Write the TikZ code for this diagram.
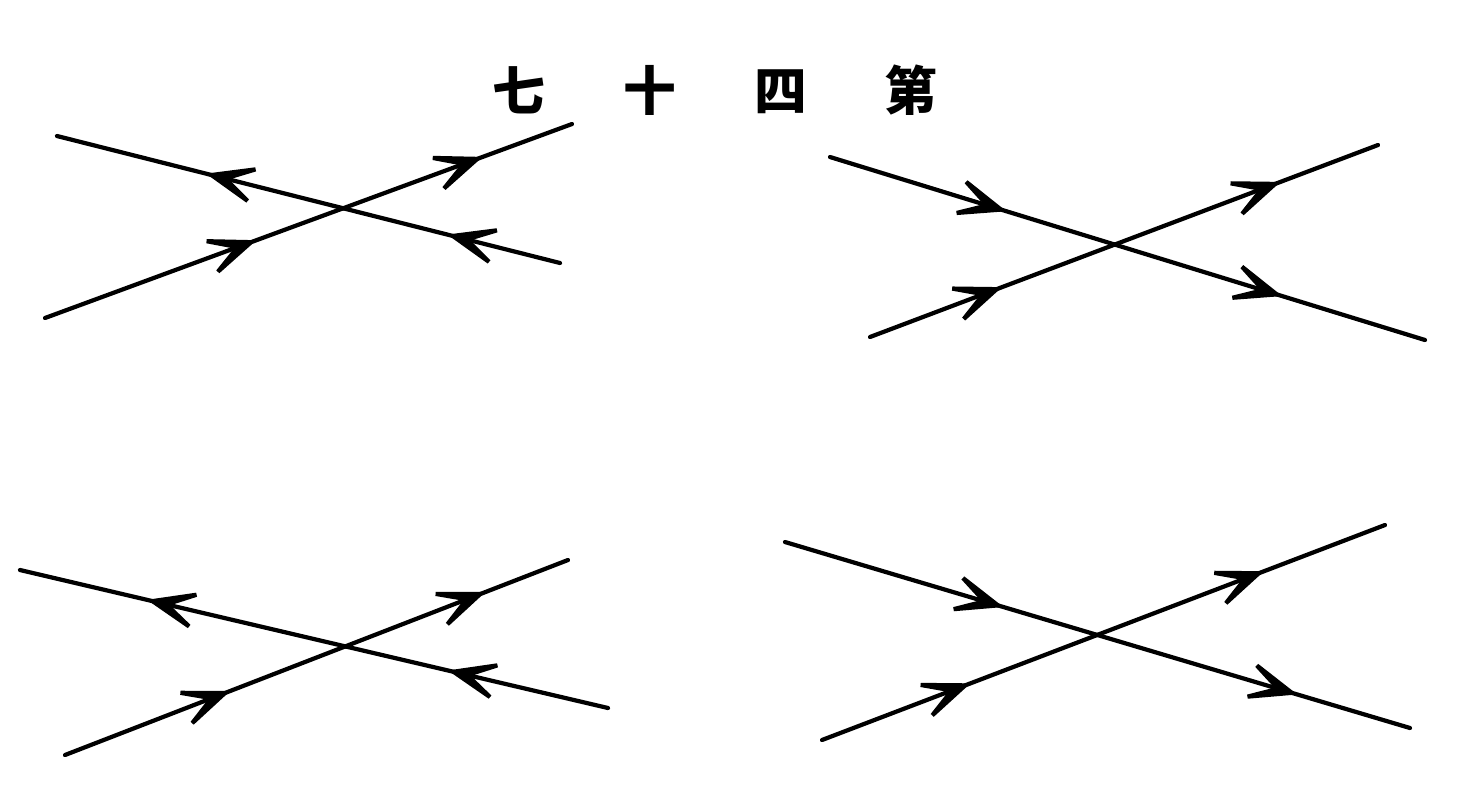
\documentclass[tikz,border=0pt]{standalone}
\usepackage{fontspec}
\newfontfamily\cjk{Noto Sans CJK SC}
\usetikzlibrary{arrows.meta,decorations.markings}
\tikzset{
  vane/.tip={Stealth[length=7mm,width=5.5mm,inset=4.6mm]},
  ray/.style={draw=black, line width=1.2pt, line cap=round},
  flow/.style={ray, postaction={decorate},
               decoration={markings, mark=at position #1 with {\arrow{vane}}}},
  heading/.style={font=\cjk\bfseries\fontsize{15pt}{15pt}\selectfont, inner sep=0pt}
}

\begin{document}
\begin{tikzpicture}[x=0.01cm, y=-0.01cm]
\fill[white] (0,0) rectangle (1466,787);
\useasboundingbox (0,0) rectangle (1466,787);

\node[heading] (title) at (715,90) {七\hspace{7.8mm}十\hspace{7.8mm}四\hspace{7.8mm}第};

% top left
\coordinate (p1a1) at (57,136);
\coordinate (p1a2) at (560,263);
\coordinate (p1b1) at (45,318);
\coordinate (p1b2) at (572,124);
\coordinate (p1c) at (intersection of p1a1--p1a2 and p1b1--p1b2);
\draw[flow=0.52] (p1a2) -- (p1c);
\draw[flow=0.48] (p1c) -- (p1a1);
\draw[flow=0.71] (p1b1) -- (p1c);
\draw[flow=0.61] (p1c) -- (p1b2);

% top right
\coordinate (p2a1) at (830,157);
\coordinate (p2a2) at (1425,340);
\coordinate (p2b1) at (870,337);
\coordinate (p2b2) at (1378,145);
\coordinate (p2c) at (intersection of p2a1--p2a2 and p2b1--p2b2);
\draw[flow=0.62] (p2a1) -- (p2c);
\draw[flow=0.54] (p2c) -- (p2a2);
\draw[flow=0.54] (p2b1) -- (p2c);
\draw[flow=0.63] (p2c) -- (p2b2);

% bottom left
\coordinate (p3a1) at (20,570);
\coordinate (p3a2) at (608,708);
\coordinate (p3b1) at (65,755);
\coordinate (p3b2) at (568,560);
\coordinate (p3c) at (intersection of p3a1--p3a2 and p3b1--p3b2);
\draw[flow=0.61] (p3a2) -- (p3c);
\draw[flow=0.61] (p3c) -- (p3a1);
\draw[flow=0.59] (p3b1) -- (p3c);
\draw[flow=0.63] (p3c) -- (p3b2);

% bottom right
\coordinate (p4a1) at (785,542);
\coordinate (p4a2) at (1410,728);
\coordinate (p4b1) at (822,740);
\coordinate (p4b2) at (1385,525);
\coordinate (p4c) at (intersection of p4a1--p4a2 and p4b1--p4b2);
\draw[flow=0.70] (p4a1) -- (p4c);
\draw[flow=0.64] (p4c) -- (p4a2);
\draw[flow=0.54] (p4b1) -- (p4c);
\draw[flow=0.58] (p4c) -- (p4b2);
\end{tikzpicture}
\end{document}
